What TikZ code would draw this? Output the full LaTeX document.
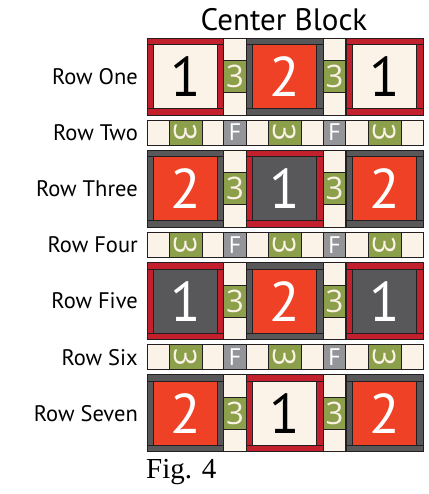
\documentclass[tikz,border=0pt]{standalone}
\usepackage{fontspec}
\setmainfont{PT Sans}
\newfontfamily\figfont{Liberation Serif}
\newfontfamily\digfont{Open Sans}
\usepackage{xcolor}
\usepackage{tikz}
\usetikzlibrary{positioning, calc}
\definecolor{qCream}{HTML}{FBF2E8}
\definecolor{qRed}{HTML}{C3202E}
\definecolor{qSlate}{HTML}{58585A}
\definecolor{qOrange}{HTML}{EE4126}
\definecolor{qGreen}{HTML}{8C9F4A}
\definecolor{qGrey}{HTML}{939598}
\definecolor{qInk}{HTML}{231F20}
\tikzset{
  qpiece/.style={draw=qInk, line width=0.9pt, inner sep=0pt, outer sep=0pt},
  qcenter/.style={qpiece, minimum size=64pt, font=\fontsize{56}{56}\selectfont},
  qsash/.style={qpiece, fill=qGreen, text=qCream, minimum width=22.5pt,
                minimum height=32pt, font=\digfont\fontsize{31}{31}\selectfont},
  qbar/.style={qpiece, fill=qGreen, text=qCream, minimum width=33pt,
               minimum height=25pt, font=\digfont\fontsize{31}{31}\selectfont},
  qfix/.style={qpiece, fill=qGrey, text=white, minimum width=22.5pt,
               minimum height=25pt, font=\fontsize{24}{24}\selectfont},
  qlabel/.style={anchor=east, inner sep=0pt, font=\fontsize{22.5}{22.5}\selectfont},
}
% one block: name, x, y, frame, centre, digit colour, digit
\newcommand{\qblock}[7]{%
  \filldraw[qpiece, fill=#4] ({#2-38.5},{#3-38.5}) rectangle ({#2+38.5},{#3+38.5});
  \draw[qpiece] ({#2-38.5},{#3-32}) -- ++(77,0);
  \draw[qpiece] ({#2-38.5},{#3+32}) -- ++(77,0);
  \node[qcenter, fill=#5, text=#6] (#1) at (#2,#3) {#7};
}
% sashing between two blocks
\newcommand{\qsashcol}[3]{%
  \filldraw[qpiece, fill=qCream] ({#2-11.25},{#3-38.5}) rectangle ({#2+11.25},{#3+38.5});
  \node[qsash] (#1) at (#2,#3) {3};
}
% horizontal sashing strip
\newcommand{\qstrip}[2]{%
  \filldraw[qpiece, fill=qCream] (147,{#2-12.5}) rectangle (423,{#2+12.5});
  \node[qbar] (#1a) at (185.5,#2) {\rotatebox{-90}{3}};
  \node[qfix] (#1f) at (235,#2) {F};
  \node[qbar] (#1b) at (284.5,#2) {\rotatebox{-90}{3}};
  \node[qfix] (#1g) at (334.5,#2) {F};
  \node[qbar] (#1c) at (384.5,#2) {\rotatebox{-90}{3}};
}
\begin{document}
\begin{tikzpicture}[x=1pt, y=-1pt]
\useasboundingbox (0,0) rectangle (428,494);
\node[font=\fontsize{31}{31}\selectfont] (title) at (284,20) {Center Block};

\qblock{b11}{185.5}{76.5}{qRed}{qCream}{black}{1}
\qsashcol{s11}{235}{76.5}
\qblock{b12}{284.5}{76.5}{qSlate}{qOrange}{white}{2}
\qsashcol{s12}{334.5}{76.5}
\qblock{b13}{384.5}{76.5}{qRed}{qCream}{black}{1}

\qstrip{t2}{132.6}

\qblock{b31}{185.5}{188.8}{qSlate}{qOrange}{white}{2}
\qsashcol{s31}{235}{188.8}
\qblock{b32}{284.5}{188.8}{qRed}{qSlate}{white}{1}
\qsashcol{s32}{334.5}{188.8}
\qblock{b33}{384.5}{188.8}{qSlate}{qOrange}{white}{2}

\qstrip{t4}{244.9}

\qblock{b51}{185.5}{301.1}{qRed}{qSlate}{white}{1}
\qsashcol{s51}{235}{301.1}
\qblock{b52}{284.5}{301.1}{qSlate}{qOrange}{white}{2}
\qsashcol{s52}{334.5}{301.1}
\qblock{b53}{384.5}{301.1}{qRed}{qSlate}{white}{1}

\qstrip{t6}{357.2}

\qblock{b71}{185.5}{413.4}{qSlate}{qOrange}{white}{2}
\qsashcol{s71}{235}{413.4}
\qblock{b72}{284.5}{413.4}{qRed}{qCream}{black}{1}
\qsashcol{s72}{334.5}{413.4}
\qblock{b73}{384.5}{413.4}{qSlate}{qOrange}{white}{2}

\node[qlabel] (r1) at (138,76.5) {Row One};
\node[qlabel] (r2) at (138,132.6) {Row Two};
\node[qlabel] (r3) at (138,188.8) {Row Three};
\node[qlabel] (r4) at (138,244.9) {Row Four};
\node[qlabel] (r5) at (138,301.1) {Row Five};
\node[qlabel] (r6) at (138,357.2) {Row Six};
\node[qlabel] (r7) at (138,413.4) {Row Seven};

\node[anchor=west, inner sep=0pt, font=\figfont\fontsize{29}{29}\selectfont] (fig) at (146,472) {Fig. 4};
\end{tikzpicture}
\end{document}
